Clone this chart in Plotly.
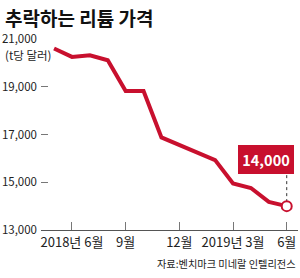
import plotly.graph_objects as go

months = ["2018-05", "2018-06", "2018-07", "2018-08", "2018-09", "2018-10", "2018-11",
          "2018-12", "2019-01", "2019-02", "2019-03", "2019-04", "2019-05", "2019-06"]
prices = [20600, 20250, 20320, 20110, 18820, 18820, 16880,
          16570, 16250, 15930, 14950, 14760, 14180, 14000]
x_tick_months = ["2018-06", "2018-09", "2018-12", "2019-03", "2019-06"]
x_tick_labels = ["2018년 6월", "9월", "12월", "2019년 3월", "6월"]
y_ticks = [13000, 15000, 17000, 19000, 21000]
y_tick_labels = ["13,000", "15,000", "17,000", "19,000", "21,000"]

base = months.index("2018-06")
xs = [months.index(m) - base for m in months]
tickx = [months.index(m) - base for m in x_tick_months]

RED = "#c8102e"
FONT = "Noto Sans CJK KR"

fig = go.Figure()
fig.add_trace(go.Scatter(
    x=xs, y=prices, mode="lines",
    line=dict(color=RED, width=4, shape="linear"),
    hoverinfo="skip", showlegend=False,
))
fig.add_trace(go.Scatter(
    x=[xs[-1]], y=[prices[-1]], mode="markers",
    marker=dict(size=10, color="white", line=dict(color=RED, width=2)),
    hoverinfo="skip", showlegend=False,
))

fig.add_shape(type="line", xref="x", yref="y", ysizemode="pixel",
              x0=xs[-1], x1=xs[-1], yanchor=prices[-1], y0=4, y1=33,
              line=dict(color="#333", width=1, dash="dot"), layer="below")

fig.add_annotation(x=xs[-1], y=prices[-1], xref="x", yref="y",
                   text="<b>%s</b>" % f"{prices[-1]:,}", showarrow=False,
                   xshift=-21, yshift=47,
                   font=dict(family=FONT, size=14.5, color="white"),
                   bgcolor=RED, bordercolor=RED, borderwidth=1,
                   width=52, height=25, align="center", valign="middle")

fig.add_annotation(x=0, y=1, xref="paper", yref="paper", xanchor="left", yanchor="top",
                   text="<b>추락하는 리튬 가격</b>", showarrow=False,
                   font=dict(family=FONT, size=19, color="#111"))
fig.add_annotation(x=0, y=55, xref="paper", yref="paper", xanchor="left", yanchor="middle",
                   text="(t당 달러)", showarrow=False,
                   font=dict(family=FONT, size=11.5, color="#222"))
fig.add_annotation(x=298, y=263, xref="paper", yref="paper", xanchor="right", yanchor="middle",
                   text="자료:벤치마크 미네랄 인텔리전스", showarrow=False,
                   font=dict(family=FONT, size=10.2, color="#222"))

W, H = 300, 278
L, R, T, B = 38, 2, 39, 48
# convert pixel-specified annotation positions to paper coords
for ann in fig.layout.annotations:
    if ann.xref == "paper" and ann.x not in (0, 1) or (ann.xref == "paper" and ann.x == 0 and ann.y != 1):
        pass

def px_to_paper(px, py):
    return (px - L) / (W - L - R), 1 - (py - T) / (H - T - B)

anns = list(fig.layout.annotations)
# title
anns[1].x, anns[1].y = px_to_paper(0, 2)
anns[2].x, anns[2].y = px_to_paper(0, 55)
anns[3].x, anns[3].y = px_to_paper(298, 263)
fig.layout.annotations = anns

fig.update_layout(
    width=W, height=H,
    margin=dict(l=L, r=R, t=T, b=B),
    paper_bgcolor="white", plot_bgcolor="white",
    font=dict(family=FONT, color="#222"),
    xaxis=dict(range=[-1.73, 12.63], tickvals=tickx, ticktext=x_tick_labels,
               ticks="inside", ticklen=8, tickcolor="#777", tickwidth=1,
               showline=True, linecolor="#555", linewidth=1,
               showgrid=False, zeroline=False,
               tickfont=dict(family=FONT, size=13, color="#222")),
    yaxis=dict(range=[13000, 21000], tickvals=y_ticks, ticktext=y_tick_labels,
               ticks="inside", ticklen=7, tickcolor="#777", tickwidth=1,
               showline=False, showgrid=False, zeroline=False,
               ticklabelstandoff=3,
               tickfont=dict(family=FONT, size=11.5, color="#222")),
)

fig.write_html("out.html")
